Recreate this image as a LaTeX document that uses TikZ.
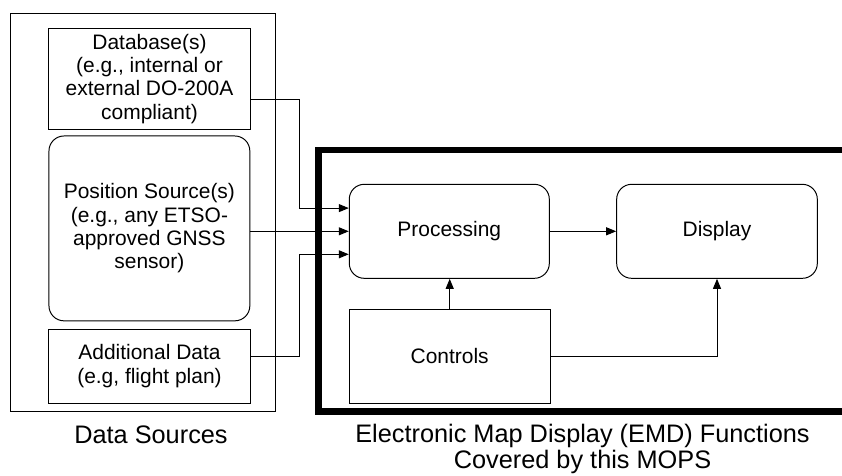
\documentclass[tikz,border=0pt]{standalone}
\usepackage{fontspec}
\setmainfont{Liberation Sans}
\usepackage{tikz}
\usetikzlibrary{arrows.meta}

\begin{document}
\begin{tikzpicture}[x=0.025cm,y=-0.025cm,
	blk/.style={draw,line width=0.7pt,align=center,inner sep=0pt,
		font=\fontsize{14.9}{16.6}\selectfont},
	rblk/.style={blk,rounded corners=0.375cm},
	arr/.style={line width=0.7pt,-{Triangle[length=0.25cm,width=0.2cm]}},
	lbl/.style={align=center,font=\fontsize{18}{18.5}\selectfont}]
	
	\useasboundingbox (0,0) rectangle (842,475);
	
	\node[blk,minimum width=6.635cm,minimum height=9.96cm] (src) at (143,212.5) {};
	\node[blk,minimum width=5.04cm,minimum height=2.525cm] (db) at (149.5,78.8)
		{Database(s)\\(e.g., internal or\\external DO-200A\\compliant)};
	\node[rblk,minimum width=5.02cm,minimum height=4.62cm] (pos) at (149.4,228.4)
		{Position Source(s)\\(e.g., any ETSO-\\approved GNSS\\sensor)};
	\node[blk,minimum width=5.04cm,minimum height=1.86cm] (add) at (149.5,366.2)
		{Additional Data\\(e.g, flight plan)};
	
	\draw[line width=4.75pt] (845,150) -- (318.3,150) -- (318.3,411.5) -- (845,411.5);
	
	\node[rblk,minimum width=5cm,minimum height=2.35cm] (proc) at (449.3,231.3) {Processing};
	\node[rblk,minimum width=5.015cm,minimum height=2.35cm] (disp) at (717,231.3) {Display};
	\node[blk,minimum width=5.02cm,minimum height=2.35cm] (ctrl) at (449.7,356.3) {Controls};
	
	\draw[arr] ([yshift=-0.51cm]db.east) -- ++(49,0) |- ([yshift=0.58cm]proc.west);
	\draw[arr] (pos.east |- proc.west) -- (proc.west);
	\draw[arr] ([yshift=0.255cm]add.east) -- ++(49,0) |- ([yshift=-0.575cm]proc.west);
	\draw[arr] (proc.east) -- (disp.west);
	\draw[arr] (ctrl.north) -- (ctrl.north |- proc.south);
	\draw[arr] (ctrl.east) -| (disp.south);
	
	\node[lbl] (dsl) at (151,435) {Data Sources};
	\node[lbl] (emdl) at (582.5,449) {Electronic Map Display (EMD) Functions\\Covered by this MOPS};
	
\end{tikzpicture}
\end{document}
